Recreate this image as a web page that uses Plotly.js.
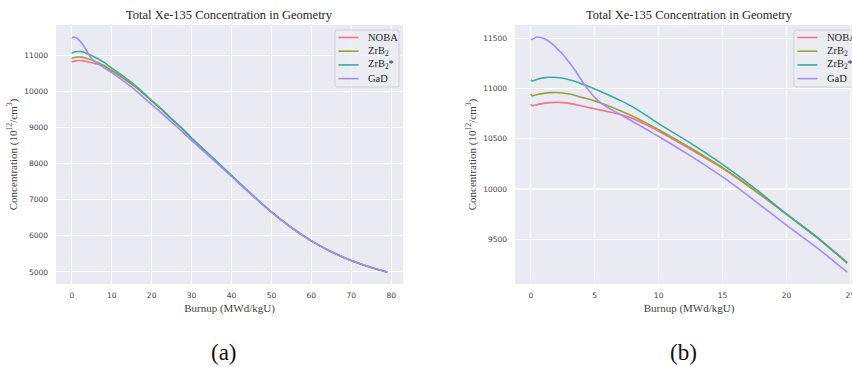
<!DOCTYPE html>
<html>
<head>
<meta charset="utf-8">
<script src="https://cdn.plot.ly/plotly-3.0.1.min.js"></script>
<style>
html, body { margin:0; padding:0; overflow:hidden; background:#fff; }
#chart { width:880px; height:367px; }
</style>
</head>
<body>
<div id="chart"></div>
<script>
// ---- data ----
const burnup = [0, 0.1, 0.5, 1, 1.5, 2, 2.5, 3, 3.5, 4, 4.5, 5, 5.5, 6, 7, 8, 9, 10, 12.5, 15, 17.5, 20, 22.5, 24.75, 27.5, 30, 35, 40, 45, 50, 55, 60, 65, 70, 75, 79];
const noba  = [10845, 10828, 10840, 10852, 10860, 10863, 10860, 10852, 10840, 10826, 10812, 10798, 10785, 10771, 10742, 10700, 10642, 10575, 10395, 10205, 9985, 9748, 9505, 9268, 8985, 8702, 8185, 7665, 7150, 6660, 6228, 5858, 5556, 5312, 5120, 4990];
const zrb2  = [10944, 10927, 10940, 10952, 10959, 10960, 10955, 10945, 10930, 10912, 10895, 10877, 10855, 10830, 10778, 10722, 10658, 10590, 10408, 10212, 9990, 9750, 9508, 9268, 8987, 8705, 8188, 7668, 7152, 6662, 6230, 5860, 5558, 5314, 5122, 4993];
const zrb2s = [11086, 11076, 11092, 11106, 11112, 11110, 11102, 11088, 11070, 11045, 11022, 10996, 10968, 10940, 10882, 10815, 10735, 10650, 10457, 10245, 10010, 9752, 9510, 9262, 8992, 8712, 8195, 7672, 7155, 6664, 6231, 5861, 5558, 5314, 5122, 4994];
const gad   = [11493, 11488, 11513, 11498, 11462, 11405, 11338, 11262, 11175, 11075, 10988, 10912, 10855, 10812, 10742, 10670, 10597, 10523, 10330, 10120, 9885, 9640, 9405, 9172, 8908, 8645, 8150, 7645, 7140, 6655, 6228, 5860, 5558, 5314, 5122, 4995];
const seriesNames = ['NOBA', 'ZrB<sub>2</sub>', 'ZrB<sub>2</sub>*', 'GaD'];
const zoomMaxBurnup = 24.75;
const xTicksA = [0, 10, 20, 30, 40, 50, 60, 70, 80];
const yTicksA = [5000, 6000, 7000, 8000, 9000, 10000, 11000];
const xTicksB = [0, 5, 10, 15, 20, 25];
const yTicksB = [9500, 10000, 10500, 11000, 11500];
const chartTitle = 'Total Xe-135 Concentration in Geometry';
const xTitle = 'Burnup (MWd/kgU)';
const yTitle = 'Concentration (10<sup>12</sup>/cm<sup>3</sup>)';
const panelLabels = ['(a)', '(b)'];

// ---- styling ----
const colors = ['#f77189', '#97a431', '#36ada4', '#a48cf4'];
const series = [noba, zrb2, zrb2s, gad];
const W = 880, H = 367;
const px = x => x / W;
const py = y => 1 - y / H;

const traces = [];
series.forEach((s, i) => {
  traces.push({x: burnup, y: s, xaxis: 'x', yaxis: 'y', mode: 'lines', name: seriesNames[i],
    line: {color: colors[i], width: 1.6, shape: 'spline', smoothing: 0.7}, showlegend: false, hoverinfo: 'skip'});
});
const keep = burnup.map((b, k) => b <= zoomMaxBurnup ? k : -1).filter(k => k >= 0);
series.forEach((s, i) => {
  traces.push({x: keep.map(k => burnup[k]), y: keep.map(k => s[k]), xaxis: 'x2', yaxis: 'y2', mode: 'lines', name: seriesNames[i],
    line: {color: colors[i], width: 1.6, shape: 'spline', smoothing: 0.7}, showlegend: false, hoverinfo: 'skip'});
});

const tickFont = {family: 'DejaVu Sans', size: 7.5, color: '#444'};
const titleFont = {family: 'Liberation Serif', size: 11, color: '#444'};
function xAx(domain, range, ticks, anchor) {
  return {domain, range, anchor, tickvals: ticks, tickformat: 'd', gridcolor: '#ffffff', gridwidth: 1.1,
    zeroline: false, showline: false, ticks: '', tickfont: tickFont, ticklabelstandoff: 5, automargin: false,
    title: {text: xTitle, font: titleFont, standoff: 5}};
}
function yAx(domain, range, ticks, anchor) {
  return {domain, range, anchor, tickvals: ticks, tickformat: 'd', gridcolor: '#ffffff', gridwidth: 1.1,
    zeroline: false, showline: false, ticks: '', tickfont: tickFont, ticklabelstandoff: 7, automargin: false,
    title: {text: yTitle, font: titleFont, standoff: 4}};
}

const panels = [
  {left: 56, right: 403, titleX: 229.5, labelX: 223.5, legLeft: 335},
  {left: 515, right: 863, titleX: 689, labelX: 683, legLeft: 794}
];
const annotations = [];
const shapes = [];
panels.forEach((p, j) => {
  annotations.push({text: chartTitle, x: px(p.titleX), y: py(15.3), xref: 'paper', yref: 'paper',
    xanchor: 'center', yanchor: 'middle', showarrow: false, font: {family: 'Liberation Serif', size: 12.5, color: '#262626'}});
  annotations.push({text: panelLabels[j], x: px(p.labelX), y: py(352), xref: 'paper', yref: 'paper',
    xanchor: 'center', yanchor: 'middle', showarrow: false, font: {family: 'Liberation Serif', size: 23, color: '#111'}});
  // legend box
  const bx0 = p.legLeft, bx1 = p.legLeft + 64, by0 = 30, by1 = 87, r = 2.5;
  const P = (x, y) => px(x).toFixed(5) + ',' + py(y).toFixed(5);
  shapes.push({type: 'path', xref: 'paper', yref: 'paper',
    path: 'M' + P(bx0 + r, by0) + ' L' + P(bx1 - r, by0) + ' Q' + P(bx1, by0) + ' ' + P(bx1, by0 + r) +
          ' L' + P(bx1, by1 - r) + ' Q' + P(bx1, by1) + ' ' + P(bx1 - r, by1) +
          ' L' + P(bx0 + r, by1) + ' Q' + P(bx0, by1) + ' ' + P(bx0, by1 - r) +
          ' L' + P(bx0, by0 + r) + ' Q' + P(bx0, by0) + ' ' + P(bx0 + r, by0) + ' Z',
    fillcolor: 'rgba(236,236,243,0.9)', line: {color: '#cfcfd4', width: 1}});
  seriesNames.forEach((n, i) => {
    const yy = 37.5 + i * 13.7;
    shapes.push({type: 'line', xref: 'paper', yref: 'paper', x0: px(p.legLeft + 3.5), x1: px(p.legLeft + 23.5),
      y0: py(yy), y1: py(yy), line: {color: colors[i], width: 1.6}});
    annotations.push({text: n, x: px(p.legLeft + 30.5), y: py(yy), xref: 'paper', yref: 'paper',
      xanchor: 'left', yanchor: 'middle', showarrow: false, font: {family: 'Liberation Serif', size: 10.5, color: '#262626'}});
  });
});

const layout = {
  width: W, height: H,
  margin: {l: 0, r: 0, t: 0, b: 0},
  paper_bgcolor: '#ffffff',
  plot_bgcolor: '#eaeaf2',
  showlegend: false,
  xaxis: xAx([px(56), px(403)], [-3.95, 82.95], xTicksA, 'y'),
  yaxis: yAx([py(284), py(25)], [4664, 11846], yTicksA, 'x'),
  xaxis2: xAx([px(515), px(863)], [-1.2375, 25.9875], xTicksB, 'y2'),
  yaxis2: yAx([py(284), py(25)], [9055, 11632], yTicksB, 'x2'),
  annotations, shapes
};
Plotly.newPlot('chart', traces, layout, {displayModeBar: false, staticPlot: true});
</script>
</body>
</html>
